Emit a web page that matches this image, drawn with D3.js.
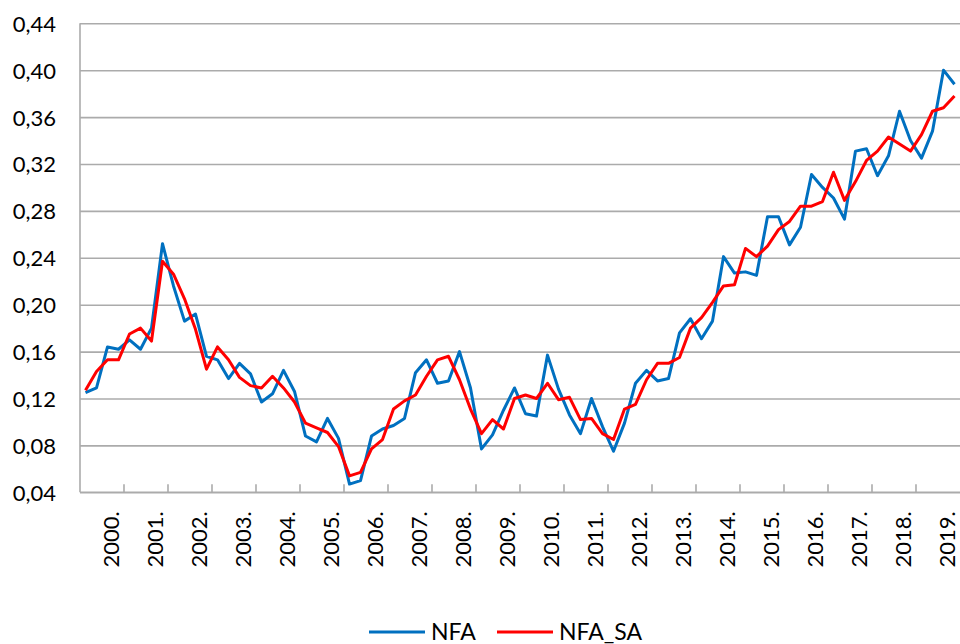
<html lang="en">
<head>
<meta charset="utf-8">
<title>NFA</title>
<style>
  body { margin: 0; background: #fff; }
  svg text { font-family: Lato, "Open Sans", sans-serif; fill: #000; }
</style>
<script src="https://cdn.jsdelivr.net/npm/d3@7"></script>
</head>
<body>
<svg id="chart" width="960" height="644"></svg>
<script>
// years on the category axis, quarterly points inside each year
var years = d3.range(2000, 2020);
var quarters = years.flatMap(function(y) { return [1, 2, 3, 4].map(function(q) { return y + "Q" + q; }); });

var yTicks = [0.04, 0.08, 0.12, 0.16, 0.20, 0.24, 0.28, 0.32, 0.36, 0.40, 0.44];

// series
var nfa = [
  0.125, 0.129, 0.164, 0.162, 0.170, 0.162, 0.180, 0.252,
  0.216, 0.186, 0.192, 0.156, 0.153, 0.137, 0.150, 0.141,
  0.117, 0.124, 0.144, 0.126, 0.088, 0.083, 0.103, 0.086,
  0.047, 0.050, 0.088, 0.094, 0.097, 0.103, 0.142, 0.153,
  0.133, 0.135, 0.160, 0.129, 0.077, 0.089, 0.110, 0.129,
  0.107, 0.105, 0.157, 0.128, 0.106, 0.090, 0.120, 0.096,
  0.075, 0.099, 0.133, 0.144, 0.135, 0.137, 0.176, 0.188,
  0.171, 0.186, 0.241, 0.227, 0.228, 0.225, 0.275, 0.275,
  0.251, 0.266, 0.311, 0.300, 0.291, 0.273, 0.331, 0.333,
  0.310, 0.327, 0.365, 0.340, 0.325, 0.348, 0.400, 0.388
];
var nfaSa = [
  0.127, 0.143, 0.153, 0.153, 0.175, 0.180, 0.169, 0.237,
  0.226, 0.205, 0.179, 0.145, 0.164, 0.153, 0.138, 0.131,
  0.129, 0.139, 0.129, 0.117, 0.099, 0.095, 0.091, 0.079,
  0.054, 0.057, 0.077, 0.085, 0.111, 0.118, 0.123, 0.139,
  0.153, 0.156, 0.136, 0.111, 0.090, 0.102, 0.094, 0.120,
  0.123, 0.120, 0.133, 0.119, 0.121, 0.102, 0.103, 0.090,
  0.085, 0.111, 0.115, 0.136, 0.150, 0.150, 0.155, 0.180,
  0.189, 0.202, 0.216, 0.217, 0.248, 0.241, 0.250, 0.264,
  0.271, 0.284, 0.284, 0.288, 0.313, 0.289, 0.305, 0.323,
  0.331, 0.343, 0.337, 0.331, 0.345, 0.365, 0.368, 0.378
];

var seriesNames = ["NFA", "NFA_SA"];
var seriesColors = ["#0070C0", "#FF0000"];

var margin = {top: 23.3, right: 0, bottom: 151.7, left: 80};
var width = 960 - margin.left - margin.right;
var height = 644 - margin.top - margin.bottom;

var svg = d3.select("#chart");
var g = svg.append("g").attr("transform", "translate(" + margin.left + "," + margin.top + ")");

var x = d3.scaleBand().domain(quarters).range([0, width]).padding(0);
var xYear = d3.scaleBand().domain(years).range([0, width]).padding(0);
var y = d3.scaleLinear().domain([0.04, 0.44]).range([height, 0]);

var fmt = function(d) { return d3.format(".2f")(d).replace(".", ","); };

// horizontal gridlines + y labels
var yAxis = g.append("g")
  .call(d3.axisLeft(y).tickValues(yTicks).tickSize(-width).tickPadding(24).tickFormat(fmt));
yAxis.select(".domain").remove();
yAxis.selectAll(".tick line").attr("stroke", "#ababab").attr("stroke-width", 1.6);
yAxis.selectAll(".tick text").style("font-size", "22px").attr("dy", "0.36em");

// left axis line
g.append("line")
  .attr("x1", 0).attr("x2", 0).attr("y1", 0).attr("y2", height)
  .attr("stroke", "#ababab").attr("stroke-width", 1.6);

// bottom axis line + year tick marks at year boundaries
g.append("line")
  .attr("x1", 0).attr("x2", width).attr("y1", height).attr("y2", height)
  .attr("stroke", "#ababab").attr("stroke-width", 1.6);
g.selectAll(".yeartick")
  .data(years.slice(1))
  .enter().append("line")
  .attr("x1", function(d) { return xYear(d); })
  .attr("x2", function(d) { return xYear(d); })
  .attr("y1", height - 8).attr("y2", height)
  .attr("stroke", "#ababab").attr("stroke-width", 1.6);

// year labels, rotated
g.selectAll(".yearlabel")
  .data(years)
  .enter().append("text")
  .attr("transform", function(d) {
    return "translate(" + (xYear(d) + xYear.bandwidth() / 2 + 17) + "," + (height + 19) + ") rotate(-90)";
  })
  .attr("text-anchor", "end")
  .style("font-size", "22px")
  .text(function(d) { return d + "."; });

// lines
var line = d3.line()
  .x(function(d, i) { return x(quarters[i]) + x.bandwidth() / 2; })
  .y(function(d) { return y(d); });

[nfa, nfaSa].forEach(function(s, k) {
  g.append("path")
    .datum(s)
    .attr("d", line)
    .attr("fill", "none")
    .attr("stroke", seriesColors[k])
    .attr("stroke-width", 3)
    .attr("stroke-linejoin", "round");
});

// legend
var legendX = [369, 497];
var legend = svg.selectAll(".legend")
  .data(seriesNames)
  .enter().append("g")
  .attr("transform", function(d, i) { return "translate(" + legendX[i] + ",632)"; });
legend.append("line")
  .attr("x1", 0).attr("x2", 56)
  .attr("stroke", function(d, i) { return seriesColors[i]; })
  .attr("stroke-width", 3);
legend.append("text")
  .attr("x", 62).attr("y", 7.5)
  .style("font-size", "23px")
  .text(function(d) { return d; });
</script>
</body>
</html>
